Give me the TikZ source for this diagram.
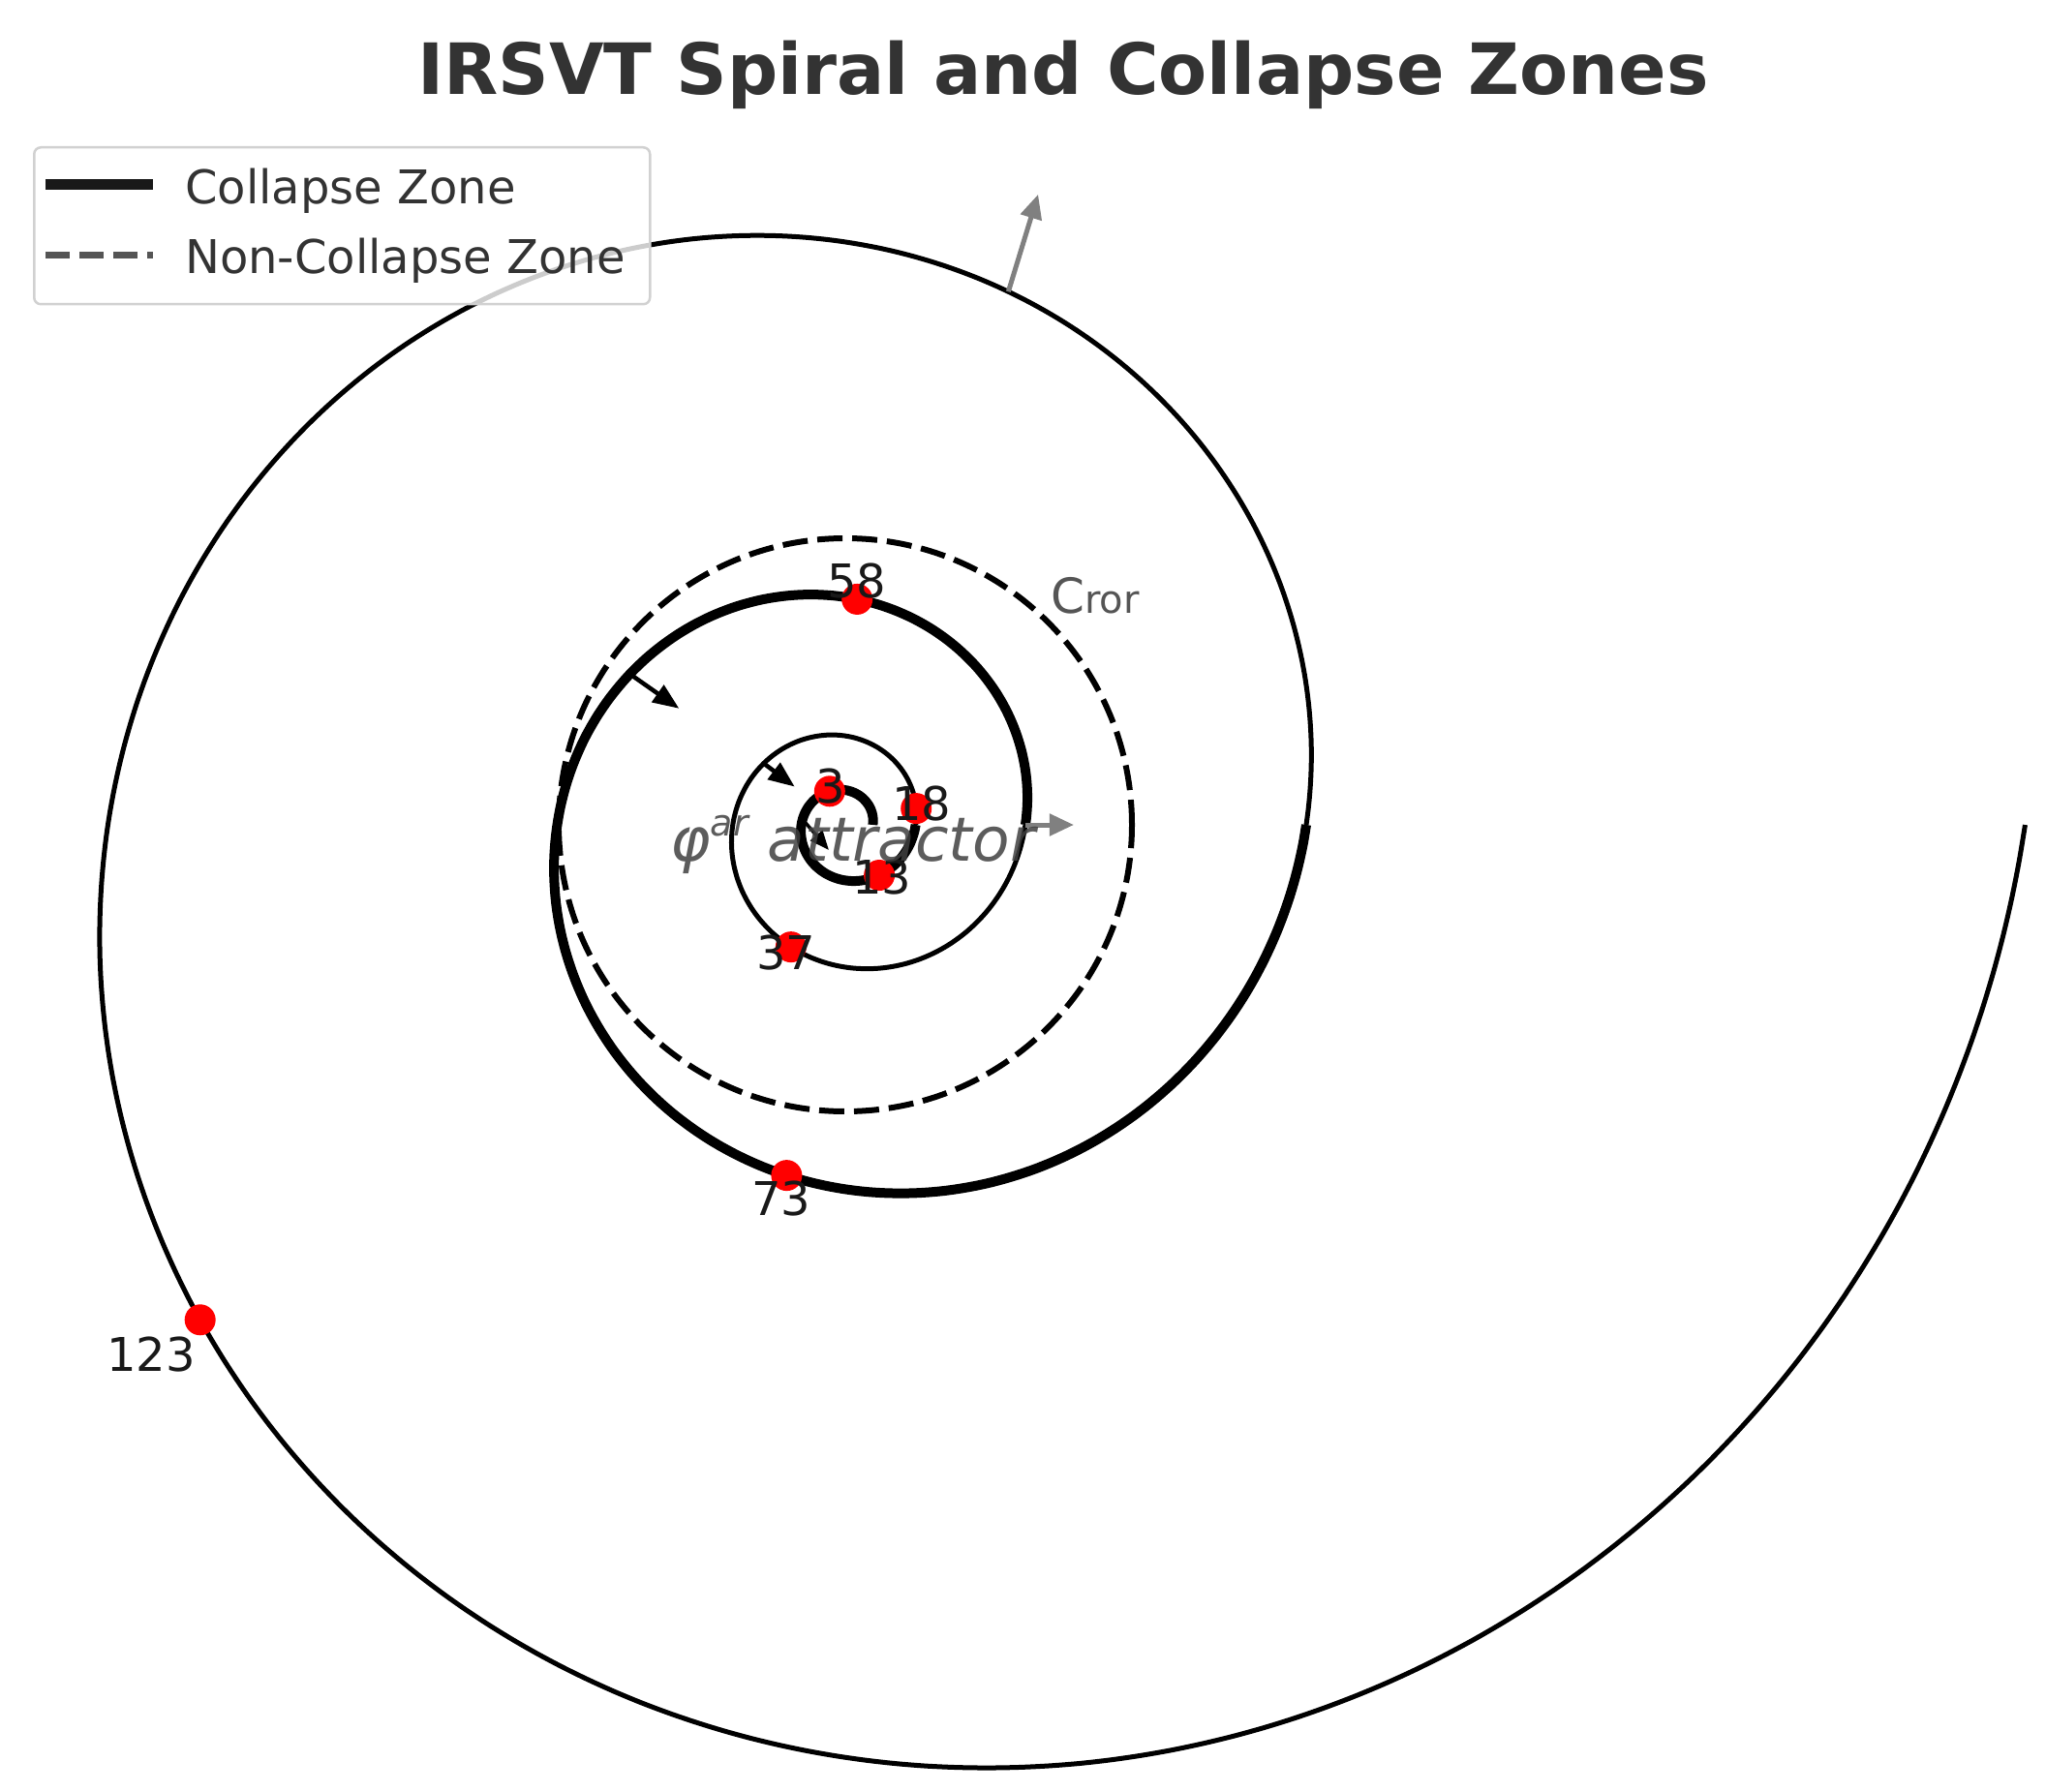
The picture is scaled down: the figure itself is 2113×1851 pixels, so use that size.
\documentclass[tikz,border=0pt]{standalone}
\usepackage{fontspec}
\setmainfont{DejaVu Sans}
\usetikzlibrary{arrows.meta}
\definecolor{titlegray}{HTML}{333333}
\definecolor{legdash}{HTML}{555555}
\definecolor{arrgray}{HTML}{808080}
\begin{document}
\begin{tikzpicture}[x=1pt,y=-1pt,
  declare function={sr(\t)=476*pow(2.56,\t/360); sx(\t)=873+sr(\t)*cos(\t); sy(\t)=852-sr(\t)*sin(\t);},
  collapse/.style={line width=10pt, black},
  noncollapse/.style={line width=5pt, black},
  ringdash/.style={line width=6pt, black, dash pattern=on 26pt off 10pt},
  dot/.style={circle, fill=red, draw=none, inner sep=0pt, minimum size=32pt},
  lbl/.style={inner sep=0pt, text=black!90, font=\fontsize{48}{56}\selectfont},
  grayarr/.style={line width=5pt, arrgray, -{Triangle[length=25pt,width=22pt]}},
  blackarr/.style={line width=4.5pt, black, -{Triangle[length=27pt,width=21pt]}},
]
\useasboundingbox (0,0) rectangle (2113,1851);
\coordinate (O) at (873,852);

% spiral
\draw[collapse, domain=-1080:-720, samples=160, variable=\t, smooth] plot ({sx(\t)},{sy(\t)});
\draw[noncollapse, domain=-720:-360, samples=160, variable=\t, smooth] plot ({sx(\t)},{sy(\t)});
\draw[collapse, domain=-360:0, samples=160, variable=\t, smooth] plot ({sx(\t)},{sy(\t)});
\draw[noncollapse, domain=0:360, samples=200, variable=\t, smooth] plot ({sx(\t)},{sy(\t)});

% dashed ring
\draw[ringdash] (O) circle[radius=296pt];

% arrows
\coordinate (ga1s) at ({sx(73)},{sy(73)});
\coordinate (ga1e) at ({sx(73)+105*cos(73)},{sy(73)-105*sin(73)});
\draw[grayarr] (ga1s) -- (ga1e);
\coordinate (ga2s) at ({sx(-360)},{sy(-360)});
\coordinate (ga2e) at ({sx(-360)+50},{sy(-360)});
\draw[grayarr] (ga2s) -- (ga2e);

\coordinate (ba1s) at ({sx(-215)},{sy(-215)});
\coordinate (ba1e) at ({sx(-215)-62*cos(-215)},{sy(-215)+62*sin(-215)});
\draw[blackarr] (ba1s) -- (ba1e);
\coordinate (ba2s) at ({sx(-577)},{sy(-577)});
\coordinate (ba2e) at ({sx(-577)-40*cos(-577)},{sy(-577)+40*sin(-577)});
\draw[blackarr] (ba2s) -- (ba2e);
\coordinate (ba3s) at (832,850);
\coordinate (ba3e) at (856,878);
\draw[line width=3.5pt, black, -{Triangle[length=20pt,width=16pt]}] (ba3s) -- (ba3e);

% collapse points
\node[dot] (d3) at ({sx(-965)},{sy(-965)}) {};
\node[dot] (d13) at ({sx(-776)},{sy(-776)}) {};
\node[dot] (d18) at ({sx(-707)},{sy(-707)}) {};
\node[dot] (d37) at ({sx(-474)},{sy(-474)}) {};
\node[dot] (d58) at ({sx(-273)},{sy(-273)}) {};
\node[dot] (d73) at ({sx(-99.5)},{sy(-99.5)}) {};
\node[dot] (d123) at ({sx(217.5)},{sy(217.5)}) {};

\node[lbl] (l3) at (858,812) {3};
\node[lbl] (l13) at (911,906) {13};
\node[lbl] (l18) at (952,830) {18};
\node[lbl] (l37) at (812,984) {37};
\node[lbl] (l58) at (885,600) {58};
\node[lbl] (l73) at (807,1238) {73};
\node[lbl] (l123) at (156,1399) {123};

% texts
\node[anchor=base west, inner sep=0pt, text=black!75, opacity=0.85, font=\fontsize{63}{72}\selectfont\itshape] (attr) at (692,889) {φ\raisebox{26pt}{\fontsize{38}{38}\selectfont ar} attractor};
\node[anchor=base west, inner sep=0pt, text=legdash] (cror) at (1085,633) {\fontsize{50}{52}\selectfont C\fontsize{40}{42}\selectfont ror};

\node[anchor=base, inner sep=0pt, text=titlegray, font=\fontsize{73}{80}\selectfont\bfseries] (title) at (1098,98) {IRSVT Spiral and Collapse Zones};

% legend
\node[anchor=north west, draw=black!18, line width=2.5pt, rounded corners=7pt, fill=white, fill opacity=0.8, minimum width=636pt, minimum height=162pt, inner sep=0pt] (legend) at (34,151) {};
\coordinate (la1) at (47,191);
\coordinate (lb1) at (158,191);
\coordinate (la2) at (47,264);
\coordinate (lb2) at (158,264);
\draw[line width=11pt, black!90] (la1) -- (lb1);
\draw[line width=7pt, legdash, dash pattern=on 25pt off 10pt] (la2) -- (lb2);
\node[anchor=base west, inner sep=0pt, text=titlegray, font=\fontsize{48}{56}\selectfont] (lt1) at (191,211) {Collapse Zone};
\node[anchor=base west, inner sep=0pt, text=titlegray, font=\fontsize{48}{56}\selectfont] (lt2) at (191,283) {Non-Collapse Zone};
\end{tikzpicture}
\end{document}
